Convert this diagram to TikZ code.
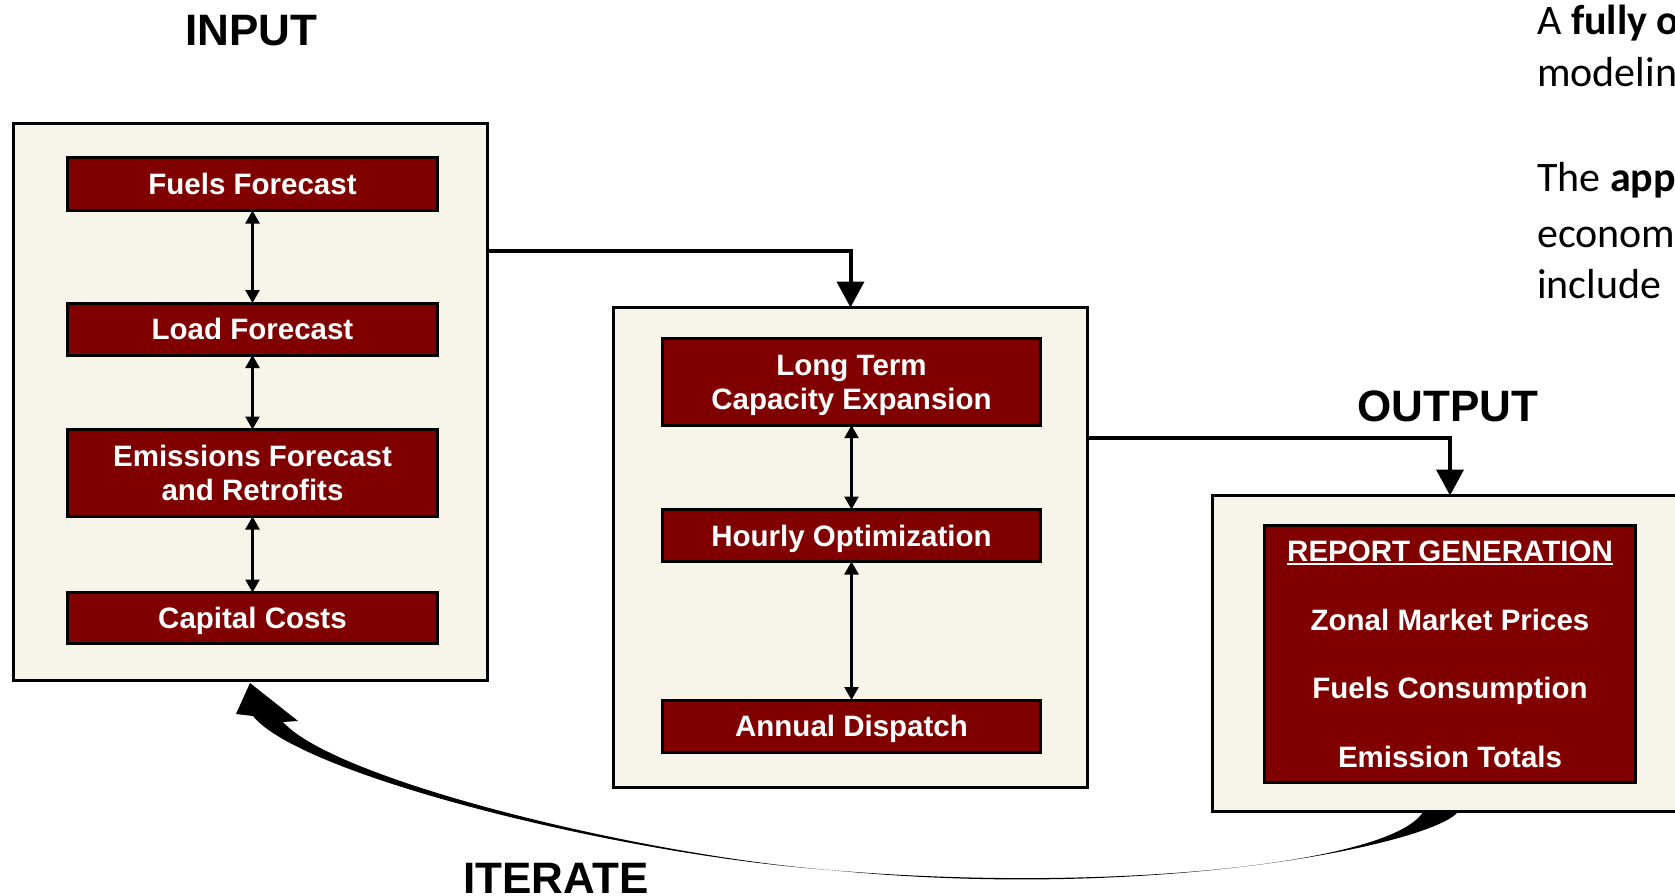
\documentclass[tikz,border=0pt]{standalone}
\usepackage{fontspec}
\setmainfont{Liberation Sans}
\newfontfamily\calibrifont{Carlito}
\usetikzlibrary{arrows.meta}
\definecolor{cream}{HTML}{F7F5E9}
\definecolor{maroon}{HTML}{800000}
\newcommand\twoline[2]{\vbox{\baselineskip=34pt\lineskiplimit=-20pt\hbox to 0pt{\hss#1\hss}\hbox to 0pt{\hss#2\hss}}}
\newcommand\ulwhite[1]{\setbox0=\hbox{#1}\rlap{\rule[-3.5pt]{\wd0}{2pt}}\box0}
\newcommand\fourline[4]{\vbox{\baselineskip=68.5pt\lineskiplimit=-20pt\hbox to 0pt{\hss#1\hss}\hbox to 0pt{\hss#2\hss}\hbox to 0pt{\hss#3\hss}\hbox to 0pt{\hss#4\hss}}}
\begin{document}
\begin{tikzpicture}[x=1pt,y=-1pt,
  outerbox/.style={draw=black, line width=3pt, fill=cream, inner sep=0pt, outer sep=0pt},
  redbox/.style={draw=black, line width=3pt, fill=maroon, text=white, inner sep=0pt, outer sep=0pt,
    minimum width=370pt, font=\fontsize{29.5}{34}\selectfont\bfseries, text depth=0pt, text height=21pt},
  twobox/.style={text height=55pt},
  link/.style={line width=4pt, -{Triangle[width=27pt,length=26pt]}},
  dbl/.style={line width=2.5pt, {Triangle[width=14pt,length=13pt]}-{Triangle[width=14pt,length=13pt]}},
  title/.style={font=\fontsize{44}{52}\selectfont\bfseries, anchor=base, inner sep=0pt},
  side/.style={font=\calibrifont\fontsize{42}{50}\selectfont, anchor=base west, inner sep=0pt},
]
\useasboundingbox (0,0) rectangle (1675,896);
\fill[white] (0,0) rectangle (1675,896);
\clip (0,0) rectangle (1675,896);

% iterate arrow (tapered, twisted band)
\fill[black] (1458,812) .. controls (1430,845) and (1150,902) .. (830,870)
  .. controls (640,855) and (335,780) .. (283,722) -- (298,721) -- (250,683) -- (236,714) -- (253,716)
  .. controls (300,775) and (620,855) .. (830,870)
  .. controls (1100,893) and (1390,865) .. (1423,812) -- cycle;

% outer boxes
\node[outerbox, minimum width=474pt, minimum height=557pt] (inbox) at (250.5,402) {};
\node[outerbox, minimum width=474pt, minimum height=480pt] (midbox) at (850.5,547.5) {};
\node[outerbox, minimum width=490pt, minimum height=316pt, anchor=north west] (outbox) at (1212.5,495.5) {};

% input boxes
\node[redbox, minimum height=53pt] (fuels) at (252.5,184) {Fuels Forecast};
\node[redbox, minimum height=52pt] (load) at (252.5,329) {Load Forecast};
\node[redbox, twobox, minimum height=87pt] (emis) at (252.5,473) {\twoline{Emissions Forecast}{and Retrofits}};
\node[redbox, minimum height=51pt] (capital) at (252.5,618) {Capital Costs};

% middle boxes
\node[redbox, twobox, minimum width=378pt, minimum height=87pt] (longterm) at (851.5,381.7) {\twoline{Long Term}{Capacity Expansion}};
\node[redbox, minimum width=378pt, minimum height=52pt] (hourly) at (851.5,535.5) {Hourly Optimization};
\node[redbox, minimum width=378pt, minimum height=52pt] (annual) at (851.5,726) {Annual Dispatch};

% report box
\node[redbox, minimum width=371pt, minimum height=257pt, text height=226.5pt] (report) at (1450,654)
  {\fourline{\ulwhite{REPORT GENERATION}}{Zonal Market Prices}{Fuels Consumption}{Emission Totals}};

% inner double arrows
\draw[dbl] (fuels.south) -- (load.north);
\draw[dbl] (load.south) -- (emis.north);
\draw[dbl] (emis.south) -- (capital.north);
\draw[dbl] (longterm.south) -- (hourly.north);
\draw[dbl] (hourly.south) -- (annual.north);

% connectors
\coordinate (c1) at (851,251);
\coordinate (c2) at (1448,438);
\draw[link] (inbox.east |- c1) -| (midbox.north);
\draw[link] (midbox.east |- c2) -| (report.north |- outbox.north);

% titles
\node[title] (tin) at (251,46) {INPUT};
\node[title] (tout) at (1448,421) {OUTPUT};
\node[title] (tit) at (556,893) {ITERATE};

% side text
\node[side] (s1) at (1537,35) {A \textbf{fully o}};
\node[side] (s2) at (1537,87) {modelin};
\node[side] (s3) at (1537,192) {The \textbf{app}};
\node[side] (s4) at (1537,247) {econom};
\node[side] (s5) at (1537,298) {include};
\end{tikzpicture}
\end{document}
